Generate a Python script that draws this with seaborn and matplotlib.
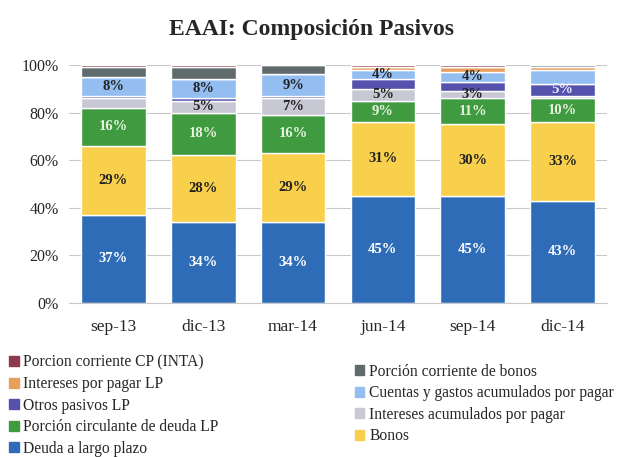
import numpy as np
import pandas as pd
import seaborn as sns
import matplotlib.pyplot as plt
from matplotlib.patches import Patch

periods = ['sep-13', 'dic-13', 'mar-14', 'jun-14', 'sep-14', 'dic-14']

# stacked from the bottom up (% of total liabilities)
deuda_lp = [37, 34, 34, 45, 45, 43]
bonos = [29, 28, 29, 31, 30, 33]
porcion_circ = [16, 18, 16, 9, 11, 10]
intereses_acum = [4, 5, 7, 5, 3, 1]
otros_pasivos = [1, 1, 1, 4, 4, 5]
cuentas = [8, 8, 9, 4, 4, 6]
intereses_lp = [0, 0, 0, 1, 2, 1]
porcion_bonos = [4, 5, 4, 0, 0, 1]
cp_inta = [1, 1, 0, 1, 1, 0]

# which segments carry a label in the original
lab_intereses_acum = [False, True, True, True, True, False]
lab_otros = [False, False, False, False, False, True]
lab_cuentas = [True, True, True, True, True, False]

series = [
    ('Deuda a largo plazo', deuda_lp, '#2f6cb8', 'white', [True] * 6),
    ('Bonos', bonos, '#f9d04c', '#222222', [True] * 6),
    ('Porción circulante de deuda LP', porcion_circ, '#3f9a40', '#e8f4e0', [True] * 6),
    ('Intereses acumulados por pagar', intereses_acum, '#c8c8d4', '#222222', lab_intereses_acum),
    ('Otros pasivos LP', otros_pasivos, '#5552ad', '#e8e8ff', lab_otros),
    ('Cuentas y gastos acumulados por pagar', cuentas, '#94bdf2', '#222222', lab_cuentas),
    ('Intereses por pagar LP', intereses_lp, '#e89f5c', '#222222', [False] * 6),
    ('Porción corriente de bonos', porcion_bonos, '#5f6b6c', 'white', [False] * 6),
    ('Porcion corriente CP (INTA)', cp_inta, '#8c3a4c', 'white', [False] * 6),
]

sns.set_style('white')
plt.rcParams['font.family'] = ['Liberation Serif', 'DejaVu Serif']

fig = plt.figure(figsize=(6.23, 4.57), dpi=100)
ax = fig.add_axes([0.11, 0.337, 0.865, 0.521])

bottom = np.zeros(len(periods))
handles = {}
for name, vals, color, tcolor, show in series:
    df = pd.DataFrame({'periodo': periods, 'valor': vals})
    sns.barplot(data=df, x='periodo', y='valor', color=color, width=0.72,
                bottom=bottom, ax=ax, saturation=1, errorbar=None)
    for i, v in enumerate(vals):
        if show[i] and v > 0:
            ax.text(i, bottom[i] + v / 2, f'{v}%', ha='center', va='center',
                    fontsize=10.5, fontweight='bold', color=tcolor)
    bottom += np.array(vals)
    handles[name] = Patch(color=color)

ax.set_ylim(0, 100)
ax.set_xlim(-0.5, len(periods) - 0.5)
ax.set_yticks(range(0, 101, 20))
ax.set_yticklabels([f'{t}%' for t in range(0, 101, 20)], fontsize=11.5)
ax.tick_params(axis='x', labelsize=12.5, pad=8)
ax.set_xlabel('')
ax.set_ylabel('')
ax.yaxis.grid(True, color='#c8c8c8', linewidth=0.8)
ax.set_axisbelow(True)
for s in ['top', 'right', 'left']:
    ax.spines[s].set_visible(False)
ax.spines['bottom'].set_color('#c8c8c8')

fig.suptitle('EAAI: Composición Pasivos', y=0.958, fontsize=17, fontweight='bold')

left_col = ['Porcion corriente CP (INTA)', 'Intereses por pagar LP', 'Otros pasivos LP',
            'Porción circulante de deuda LP', 'Deuda a largo plazo']
right_col = ['Porción corriente de bonos', 'Cuentas y gastos acumulados por pagar',
             'Intereses acumulados por pagar', 'Bonos']
kw = dict(frameon=False, fontsize=11.2, handlelength=0.6, handleheight=0.6,
          handletextpad=0.3, labelspacing=0.36, borderaxespad=0)
fig.legend([handles[n] for n in left_col], left_col, loc='upper left',
           bbox_to_anchor=(0.005, 0.238), **kw)
fig.legend([handles[n] for n in right_col], right_col, loc='upper left',
           bbox_to_anchor=(0.56, 0.218), **kw)

fig.savefig('out.png', dpi=100)
